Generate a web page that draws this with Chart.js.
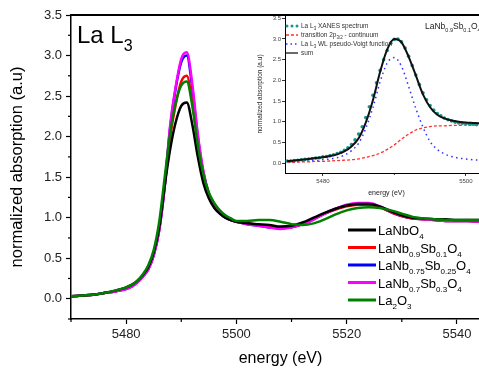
<!DOCTYPE html>
<html>
<head>
<meta charset="utf-8">
<script src="https://cdn.jsdelivr.net/npm/chart.js@4.4.1/dist/chart.umd.min.js"></script>
<style>
  html, body { margin: 0; padding: 0; background: #fff; overflow: hidden; width: 479px; height: 370px; }
  #main  { position: absolute; left: 0; top: 0; }
  #inset { position: absolute; left: 240px; top: 0; }
</style>
</head>
<body>
<canvas id="main" width="492" height="370"></canvas>
<canvas id="inset" width="252" height="205"></canvas>
<script>
// ======================================================
// DATA - main panel (La L3 edge, five samples)
// ======================================================
const energy = [5470, 5472, 5474, 5476, 5478, 5480,
    5481, 5482, 5483, 5484, 5485, 5486, 5487, 5488, 5489, 5490,
    5491, 5492, 5493, 5494, 5495, 5496, 5497, 5498, 5499, 5500,
    5502, 5504, 5506, 5508, 5510, 5512, 5514, 5516, 5518, 5520, 5522, 5524,
    5526, 5528, 5530, 5532, 5534, 5536, 5538, 5540, 5542, 5544, 5546];

const laNbO4 = [0.03, 0.04, 0.05, 0.07, 0.10, 0.14,
    0.17, 0.22, 0.29, 0.39, 0.57, 0.88, 1.40, 1.85, 2.18, 2.38,
    2.42, 2.15, 1.75, 1.43, 1.24, 1.12, 1.05, 1.00, 0.97, 0.95,
    0.93, 0.92, 0.91, 0.89, 0.90, 0.94, 1.00, 1.06, 1.11, 1.15, 1.17, 1.17,
    1.14, 1.08, 1.03, 1.00, 0.99, 0.98, 0.98, 0.97, 0.97, 0.97, 0.97];

const sb10 = [0.03, 0.04, 0.05, 0.07, 0.09, 0.13,
    0.16, 0.21, 0.28, 0.37, 0.55, 0.86, 1.40, 2.00, 2.40, 2.68,
    2.75, 2.42, 1.92, 1.52, 1.28, 1.14, 1.06, 1.01, 0.97, 0.95,
    0.93, 0.91, 0.89, 0.87, 0.88, 0.92, 0.98, 1.05, 1.10, 1.14, 1.16, 1.16,
    1.13, 1.07, 1.02, 0.99, 0.98, 0.97, 0.96, 0.96, 0.96, 0.95, 0.95];

const sb25 = [0.03, 0.04, 0.05, 0.07, 0.09, 0.12,
    0.15, 0.20, 0.27, 0.36, 0.53, 0.84, 1.38, 2.12, 2.60, 2.92,
    3.00, 2.60, 2.00, 1.56, 1.29, 1.13, 1.05, 1.00, 0.97, 0.95,
    0.92, 0.90, 0.88, 0.87, 0.88, 0.92, 0.98, 1.05, 1.11, 1.15, 1.17, 1.17,
    1.13, 1.07, 1.02, 0.99, 0.98, 0.97, 0.96, 0.96, 0.96, 0.95, 0.95];

const sb30 = [0.03, 0.04, 0.05, 0.07, 0.09, 0.12,
    0.15, 0.20, 0.27, 0.36, 0.54, 0.85, 1.40, 2.15, 2.62, 2.96,
    3.04, 2.65, 2.03, 1.58, 1.30, 1.14, 1.06, 1.01, 0.97, 0.95,
    0.92, 0.90, 0.88, 0.86, 0.88, 0.92, 0.98, 1.05, 1.11, 1.16, 1.18, 1.18,
    1.14, 1.08, 1.03, 1.00, 0.98, 0.97, 0.96, 0.96, 0.96, 0.95, 0.95];

const la2O3 = [0.03, 0.04, 0.05, 0.07, 0.10, 0.14,
    0.17, 0.22, 0.30, 0.41, 0.60, 0.95, 1.50, 2.05, 2.42, 2.63,
    2.68, 2.38, 1.90, 1.54, 1.31, 1.18, 1.09, 1.03, 0.99, 0.96,
    0.96, 0.97, 0.97, 0.95, 0.92, 0.91, 0.93, 0.98, 1.04, 1.09, 1.12, 1.13,
    1.12, 1.09, 1.05, 1.01, 0.99, 0.98, 0.97, 0.97, 0.97, 0.97, 0.97];

// legend labels: [text, isSubscript]
const seriesLabels = [
    [["LaNbO", 0], ["4", 1]],
    [["LaNb", 0], ["0.9", 1], ["Sb", 0], ["0.1", 1], ["O", 0], ["4", 1]],
    [["LaNb", 0], ["0.75", 1], ["Sb", 0], ["0.25", 1], ["O", 0], ["4", 1]],
    [["LaNb", 0], ["0.7", 1], ["Sb", 0], ["0.3", 1], ["O", 0], ["4", 1]],
    [["La", 0], ["2", 1], ["O", 0], ["3", 1]]
];
const seriesColors = ["#000000", "#ff0000", "#0000ff", "#ff00ff", "#008000"];

const xTicks      = [5480, 5500, 5520, 5540];
const xMinorTicks = [5470, 5490, 5510, 5530];
const yTicks      = [0, 0.5, 1.0, 1.5, 2.0, 2.5, 3.0, 3.5];
const yMinorTicks = [-0.25, 0.25, 0.75, 1.25, 1.75, 2.25, 2.75, 3.25];

// ======================================================
// DATA - inset (fit of LaNb0.9Sb0.1O4)
// ======================================================
const insetSpecE = [5475, 5475.5, 5476, 5476.5, 5477, 5477.5, 5478, 5478.5, 5479, 5479.5,
    5480, 5480.5, 5481, 5481.5, 5482, 5482.5, 5483, 5483.5, 5484, 5484.5,
    5485, 5485.5, 5486, 5486.5, 5487, 5487.5, 5488, 5488.5, 5489, 5489.5,
    5490, 5490.5, 5491, 5491.5, 5492, 5492.5, 5493, 5493.5, 5494, 5494.5,
    5495, 5495.5, 5496, 5496.5, 5497, 5497.5, 5498, 5498.5, 5499, 5499.5,
    5500, 5500.5, 5501, 5501.5];
const insetSpec = [0.05, 0.05, 0.06, 0.07, 0.08, 0.09, 0.10, 0.11, 0.12, 0.13,
    0.15, 0.16, 0.18, 0.20, 0.23, 0.26, 0.31, 0.37, 0.45, 0.56,
    0.70, 0.88, 1.10, 1.36, 1.64, 1.94, 2.24, 2.50, 2.72, 2.90,
    2.99, 3.00, 2.93, 2.78, 2.58, 2.36, 2.13, 1.90, 1.70, 1.53,
    1.39, 1.28, 1.20, 1.14, 1.09, 1.05, 1.02, 0.99, 0.97, 0.96,
    0.95, 0.94, 0.94, 0.93];

const insetE = [5475, 5476, 5477, 5478, 5479, 5480, 5481, 5482, 5483, 5484,
    5485, 5486, 5487, 5488, 5489, 5490, 5491, 5492, 5493, 5494,
    5495, 5496, 5497, 5498, 5499, 5500, 5501, 5502, 5503];
const insetStep = [0.02, 0.02, 0.03, 0.03, 0.04, 0.04, 0.05, 0.06, 0.07, 0.08,
    0.10, 0.14, 0.18, 0.24, 0.33, 0.44, 0.58, 0.70, 0.80, 0.85,
    0.88, 0.90, 0.90, 0.91, 0.91, 0.92, 0.92, 0.92, 0.92];
const insetVoigt = [0.03, 0.03, 0.04, 0.05, 0.06, 0.08, 0.10, 0.13, 0.19, 0.30,
    0.48, 0.84, 1.34, 1.96, 2.42, 2.55, 2.34, 1.85, 1.32, 0.87,
    0.52, 0.33, 0.22, 0.16, 0.12, 0.10, 0.08, 0.07, 0.07];
const insetSum = [0.05, 0.06, 0.08, 0.10, 0.12, 0.14, 0.17, 0.21, 0.28, 0.40,
    0.60, 0.98, 1.52, 2.20, 2.75, 3.00, 2.92, 2.57, 2.12, 1.66,
    1.35, 1.17, 1.08, 1.03, 1.00, 0.98, 0.97, 0.96, 0.96];

const insetLabels = [
    [["La L", 0], ["3", 1], [" XANES spectrum", 0]],
    [["transition 2p", 0], ["3/2", 1], [" - continuum", 0]],
    [["La L", 0], ["3", 1], [" WL pseudo-Voigt function", 0]],
    [["sum", 0]]
];
const insetTitle = [["LaNb", 0], ["0.9", 1], ["Sb", 0], ["0.1", 1], ["O", 0], ["4", 1]];
const insetXTicks      = [5480, 5500];
const insetXMinorTicks = [5490];
const insetYTicks      = [0, 0.5, 1.0, 1.5, 2.0, 2.5, 3.0, 3.5];

// ======================================================
// HELPERS
// ======================================================
const FONT = "'Liberation Sans', Arial, sans-serif";

function pts(xs, ys) {
    return xs.map((x, i) => ({ x: x, y: ys[i] }));
}

// draw text with subscripts, left aligned, alphabetic baseline
function drawRich(ctx, parts, x, y, size, subSize, drop, color) {
    ctx.save();
    ctx.fillStyle = color;
    ctx.textAlign = "left";
    ctx.textBaseline = "alphabetic";
    parts.forEach(p => {
        const sub = p[1] === 1;
        ctx.font = (sub ? subSize : size) + "px " + FONT;
        ctx.fillText(p[0], x, sub ? y + drop : y);
        x += ctx.measureText(p[0]).width;
    });
    ctx.restore();
}

function fixedTicks(values) {
    return scale => { scale.ticks = values.map(v => ({ value: v })); };
}

// minor ticks + top frame line
const framePlugin = {
    id: "frame",
    afterDraw(chart, args, opts) {
        const ctx = chart.ctx;
        const a = chart.chartArea;
        ctx.save();
        ctx.strokeStyle = "#000";
        ctx.lineWidth = opts.width;
        ctx.beginPath();
        ctx.moveTo(a.left - 0.5, a.top);
        ctx.lineTo(a.right, a.top);
        ctx.stroke();

        ctx.lineWidth = opts.minorWidth;
        const xs = chart.scales.x, ys = chart.scales.y;
        (opts.xMinor || []).forEach(v => {
            const px = xs.getPixelForValue(v);
            ctx.beginPath();
            ctx.moveTo(px, a.bottom);
            ctx.lineTo(px, a.bottom + opts.minorLen);
            ctx.stroke();
        });
        (opts.yMinor || []).forEach(v => {
            const py = ys.getPixelForValue(v);
            ctx.beginPath();
            ctx.moveTo(a.left, py);
            ctx.lineTo(a.left - opts.minorLen, py);
            ctx.stroke();
        });
        ctx.restore();
    }
};

// ======================================================
// MAIN CHART
// ======================================================
const mainLegend = {
    id: "mainLegend",
    afterDraw(chart) {
        const ctx = chart.ctx;
        // panel title
        drawRich(ctx, [["La L", 0], ["3", 1]], 77, 43, 24, 16, 8, "#000");

        seriesLabels.forEach((parts, i) => {
            const y = 230 + i * 17.5;
            ctx.save();
            ctx.strokeStyle = seriesColors[i];
            ctx.lineWidth = 3;
            ctx.beginPath();
            ctx.moveTo(348, y);
            ctx.lineTo(376, y);
            ctx.stroke();
            ctx.restore();
            drawRich(ctx, parts, 378, y + 5, 13, 8, 4, "#000");
        });
    }
};

const mainSeries = [laNbO4, sb10, sb25, sb30, la2O3];
const drawOrder  = [1, 3, 4, 2, 0];

new Chart(document.getElementById("main").getContext("2d"), {
    type: "line",
    data: {
        datasets: mainSeries.map((vals, i) => ({
            data: pts(energy, vals),
            borderColor: seriesColors[i],
            borderWidth: 2.5,
            pointRadius: 0,
            cubicInterpolationMode: "monotone",
            fill: false,
            order: drawOrder[i]
        }))
    },
    options: {
        responsive: false,
        animation: false,
        devicePixelRatio: 1,
        layout: { padding: { left: 0, top: 15, right: 2, bottom: 0 } },
        plugins: {
            legend: { display: false },
            tooltip: { enabled: false },
            frame: { width: 2, minorWidth: 1.2, minorLen: 3, xMinor: xMinorTicks, yMinor: yMinorTicks }
        },
        scales: {
            x: {
                type: "linear",
                min: 5470, max: 5546,
                afterBuildTicks: fixedTicks(xTicks),
                afterFit: s => { s.height = 51; },
                grid: { display: true, drawOnChartArea: false, tickLength: 5, tickColor: "#000", tickWidth: 1.2 },
                border: { color: "#000", width: 1.5 },
                ticks: { color: "#222", font: { family: FONT, size: 13 }, padding: 3, maxRotation: 0,
                         callback: v => String(v) },
                title: { display: true, text: "energy (eV)", color: "#000",
                         font: { family: FONT, size: 16 }, padding: { top: 0, bottom: 2 } }
            },
            y: {
                type: "linear",
                min: -0.25, max: 3.5,
                afterBuildTicks: fixedTicks(yTicks),
                afterFit: s => { s.width = 71; },
                grid: { display: true, drawOnChartArea: false, tickLength: 5, tickColor: "#000", tickWidth: 1.2 },
                border: { color: "#000", width: 1.5 },
                ticks: { color: "#222", font: { family: FONT, size: 13 }, padding: 4,
                         callback: v => v.toFixed(1) },
                title: { display: true, text: "normalized absorption (a.u)", color: "#000",
                         font: { family: FONT, size: 16.5 }, padding: { top: 8, bottom: 0 } }
            }
        }
    },
    plugins: [framePlugin, mainLegend]
});

// ======================================================
// INSET CHART
// ======================================================
const TEAL = "#17968c";

const insetLegend = {
    id: "insetLegend",
    afterDraw(chart) {
        const ctx = chart.ctx;
        // sample title, canvas is offset 240px
        drawRich(ctx, insetTitle, 185, 29, 8.5, 5.5, 2.5, "#222");

        const x0 = 46, x1 = 58;
        insetLabels.forEach((parts, i) => {
            const y = 26 + i * 9;
            ctx.save();
            if (i === 0) {
                ctx.fillStyle = TEAL;
                [x0 + 1, x0 + 6, x0 + 11].forEach(px => {
                    ctx.beginPath(); ctx.arc(px, y, 1.5, 0, Math.PI * 2); ctx.fill();
                });
            } else {
                ctx.strokeStyle = ["", "#ff3030", "#3030ff", "#444"][i];
                ctx.lineWidth = i === 3 ? 1.6 : 1.3;
                ctx.setLineDash(i === 1 ? [3, 2] : i === 2 ? [1.5, 3] : []);
                ctx.beginPath(); ctx.moveTo(x0, y); ctx.lineTo(x1, y); ctx.stroke();
            }
            ctx.restore();
            drawRich(ctx, parts, x1 + 3, y + 2.3, 6.5, 4.5, 1.8, "#333");
        });
    }
};

new Chart(document.getElementById("inset").getContext("2d"), {
    type: "line",
    data: {
        datasets: [
            { data: pts(insetE, insetSum), borderColor: "#111", borderWidth: 2, pointRadius: 0,
              cubicInterpolationMode: "monotone", order: 0 },
            { data: pts(insetSpecE, insetSpec), showLine: false, pointRadius: 1.8,
              pointBackgroundColor: TEAL, pointBorderWidth: 0, order: 1 },
            { data: pts(insetE, insetStep), borderColor: "#ff3030", borderWidth: 1.3, borderDash: [3, 2],
              pointRadius: 0, cubicInterpolationMode: "monotone", order: 2 },
            { data: pts(insetE, insetVoigt), borderColor: "#3030ff", borderWidth: 1.5, borderDash: [1.5, 3.5],
              pointRadius: 0, cubicInterpolationMode: "monotone", order: 3 }
        ]
    },
    options: {
        responsive: false,
        animation: false,
        devicePixelRatio: 1,
        layout: { padding: { left: 0, top: 15, right: 2, bottom: 0 } },
        plugins: {
            legend: { display: false },
            tooltip: { enabled: false },
            frame: { width: 1.2, minorWidth: 0.8, minorLen: 2, xMinor: insetXMinorTicks, yMinor: [] }
        },
        scales: {
            x: {
                type: "linear",
                min: 5474.7, max: 5503.1,
                afterBuildTicks: fixedTicks(insetXTicks),
                afterFit: s => { s.height = 32; },
                grid: { display: true, drawOnChartArea: false, tickLength: 3, tickColor: "#000", tickWidth: 0.8 },
                border: { color: "#000", width: 1 },
                ticks: { color: "#444", font: { family: FONT, size: 6 }, padding: 2, maxRotation: 0,
                         callback: v => String(v) },
                title: { display: true, text: "energy (eV)", color: "#222",
                         font: { family: FONT, size: 7 }, padding: { top: 0, bottom: 8 } }
            },
            y: {
                type: "linear",
                min: -0.24, max: 3.58,
                afterBuildTicks: fixedTicks(insetYTicks),
                afterFit: s => { s.width = 45; },
                grid: { display: true, drawOnChartArea: false, tickLength: 3, tickColor: "#000", tickWidth: 0.8 },
                border: { color: "#000", width: 1 },
                ticks: { color: "#444", font: { family: FONT, size: 6 }, padding: 1,
                         callback: v => v.toFixed(1) },
                title: { display: true, text: "normalized absorption (a.u)", color: "#222",
                         font: { family: FONT, size: 6.5 }, padding: { top: 16, bottom: 0 } }
            }
        }
    },
    plugins: [framePlugin, insetLegend]
});
</script>
</body>
</html>
